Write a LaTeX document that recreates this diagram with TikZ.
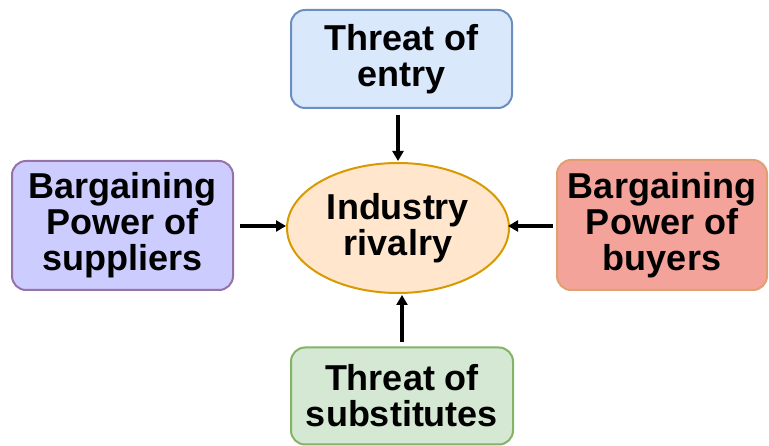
\documentclass[tikz,border=0pt]{standalone}
\usepackage{fontspec}
\setmainfont{Liberation Sans}
\usetikzlibrary{arrows.meta,shapes.geometric}
\definecolor{blueF}{HTML}{DAE8FC}\definecolor{blueD}{HTML}{6C8EBF}
\definecolor{purF}{HTML}{CCCCFF}\definecolor{purD}{HTML}{9673A6}
\definecolor{redF}{HTML}{F4A39A}\definecolor{redD}{HTML}{E0A070}
\definecolor{grnF}{HTML}{D5E8D4}\definecolor{grnD}{HTML}{82B366}
\definecolor{orgF}{HTML}{FFE6CC}\definecolor{orgD}{HTML}{D79B00}
\tikzset{
  box/.style={rectangle, rounded corners=14pt, line width=2pt, align=center,
    inner sep=0pt, font=\fontsize{36}{36}\selectfont\bfseries},
  conn/.style={line width=3.5pt, -{Triangle[length=10pt,width=11pt]}}
}
\begin{document}
\begin{tikzpicture}[x=1pt,y=-1pt]
\useasboundingbox (0,0) rectangle (769,446);
\node[box, fill=blueF, draw=blueD, minimum width=221pt, minimum height=98pt] (entry) at (401.5,59) {Threat of\\entry};
\node[box, fill=purF, draw=purD, minimum width=221pt, minimum height=129pt] (sup) at (122.5,225.5) {Bargaining\\Power of\\suppliers};
\node[box, fill=redF, draw=redD, minimum width=210pt, minimum height=130pt] (buy) at (662,225) {Bargaining\\Power of\\buyers};
\node[box, fill=grnF, draw=grnD, minimum width=222pt, minimum height=97pt] (subs) at (402,396) {Threat of\\substitutes};
\node[ellipse, fill=orgF, draw=orgD, line width=2pt, minimum width=222pt, minimum height=130pt, inner sep=0pt, align=center, font=\fontsize{36}{36}\selectfont\bfseries] (ind) at (398,228) {Industry\\rivalry};
\coordinate (t1) at (398,115); \coordinate (t2) at (398,161);
\coordinate (l1) at (240,226); \coordinate (l2) at (286,226);
\coordinate (r1) at (553,226); \coordinate (r2) at (508,226);
\coordinate (b1) at (402,342); \coordinate (b2) at (402,295);
\draw[conn] (t1) -- (t2);
\draw[conn] (l1) -- (l2);
\draw[conn] (r1) -- (r2);
\draw[conn] (b1) -- (b2);
\end{tikzpicture}
\end{document}
